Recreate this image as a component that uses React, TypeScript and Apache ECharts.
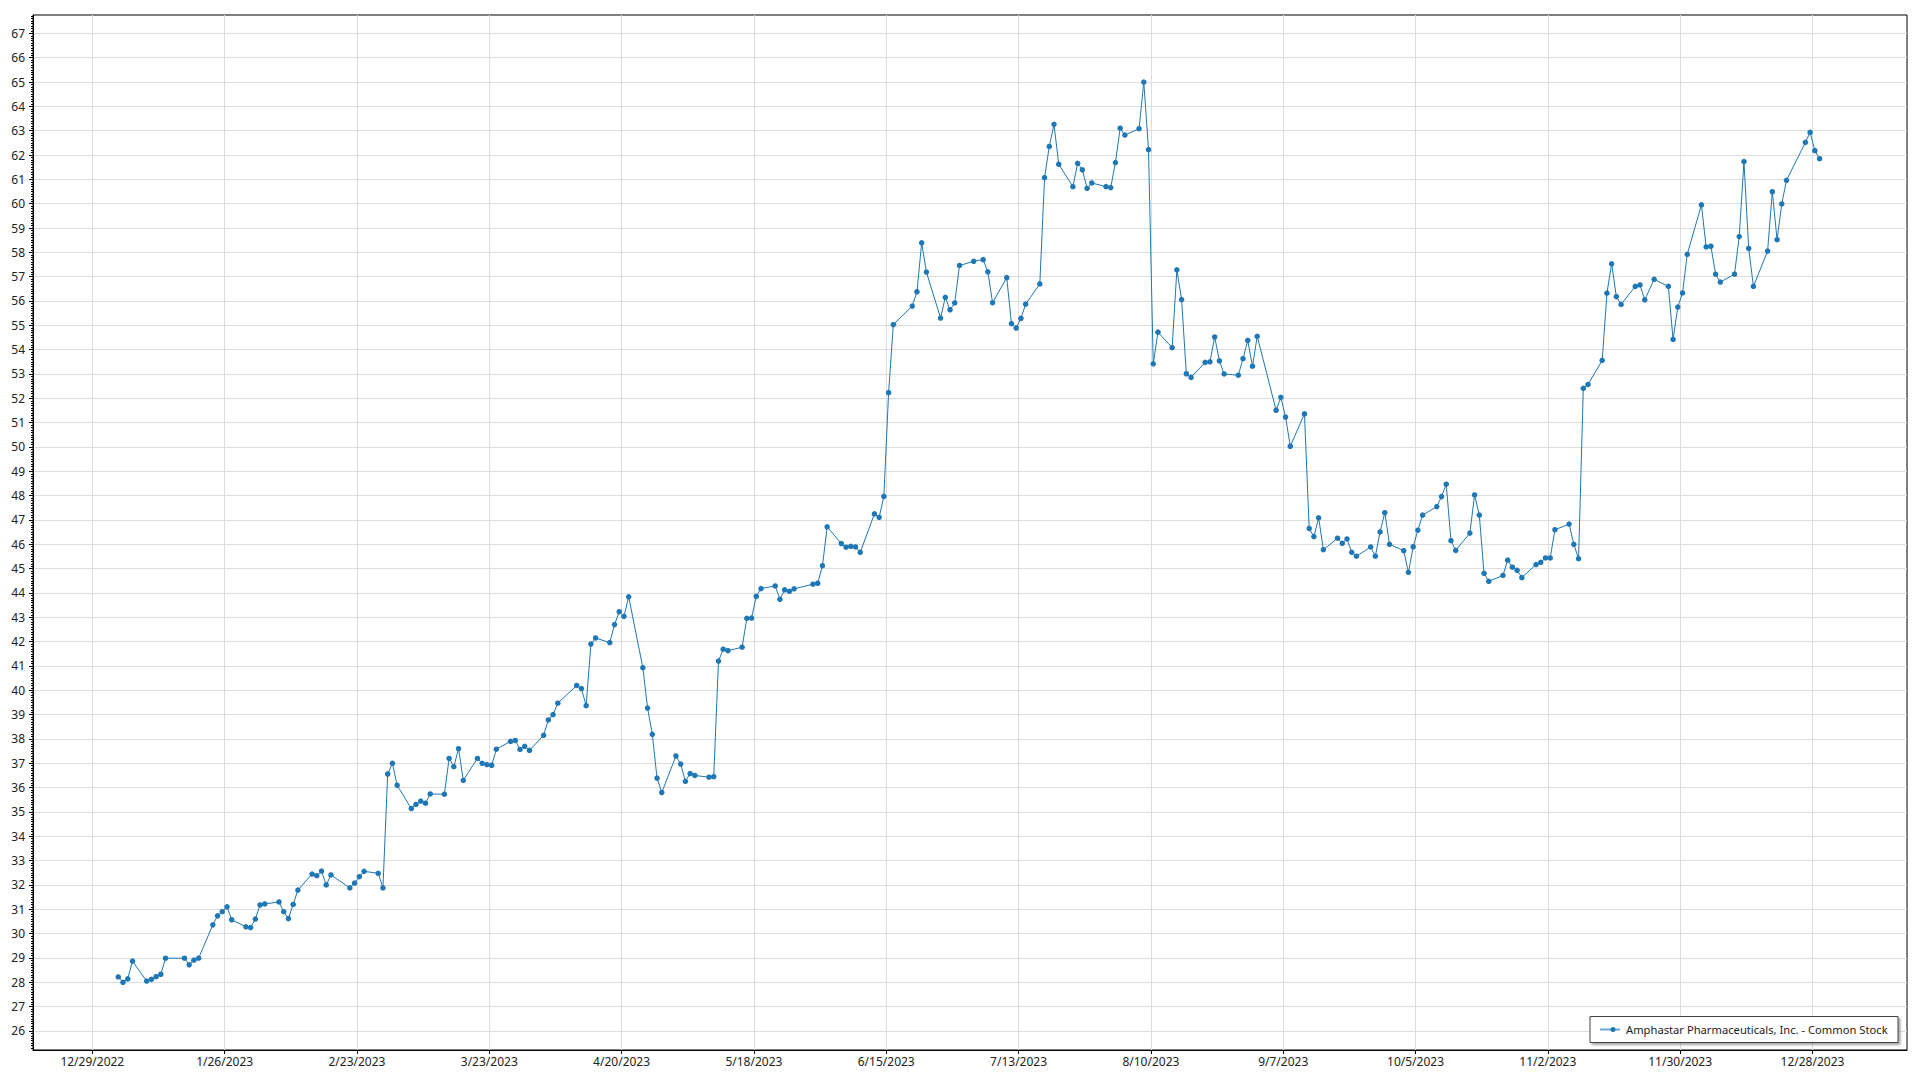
import React, { useEffect, useRef } from 'react';
import * as echarts from 'echarts';

const SERIES_NAME = 'Amphastar Pharmaceuticals, Inc. - Common Stock';
const YEAR = 2023;

// [day of month, closing price]
const jan: [number, number][] = [
  [3, 28.22], [4, 28.0], [5, 28.14], [6, 28.87], [9, 28.05], [10, 28.12], [11, 28.23], [12, 28.33],
  [13, 28.99], [17, 28.99], [18, 28.72], [19, 28.91], [20, 28.99], [23, 30.36], [24, 30.73], [25, 30.9],
  [26, 31.1], [27, 30.57], [30, 30.28], [31, 30.25],
];
const feb: [number, number][] = [
  [1, 30.6], [2, 31.18], [3, 31.22], [6, 31.3], [7, 30.9], [8, 30.62], [9, 31.2], [10, 31.79],
  [13, 32.45], [14, 32.38], [15, 32.57], [16, 32.0], [17, 32.41], [21, 31.88], [22, 32.08], [23, 32.34],
  [24, 32.56], [27, 32.48], [28, 31.88],
];
const mar: [number, number][] = [
  [1, 36.56], [2, 37.0], [3, 36.1], [6, 35.14], [7, 35.31], [8, 35.45], [9, 35.36], [10, 35.74],
  [13, 35.73], [14, 37.2], [15, 36.86], [16, 37.6], [17, 36.3], [20, 37.2], [21, 37.0], [22, 36.95],
  [23, 36.92], [24, 37.58], [27, 37.9], [28, 37.94], [29, 37.57], [30, 37.7], [31, 37.53],
];
const apr: [number, number][] = [
  [3, 38.15], [4, 38.78], [5, 39.0], [6, 39.47], [10, 40.2], [11, 40.07], [12, 39.37], [13, 41.9],
  [14, 42.15], [17, 41.96], [18, 42.7], [19, 43.23], [20, 43.04], [21, 43.84], [24, 40.93], [25, 39.27],
  [26, 38.19], [27, 36.39], [28, 35.8],
];
const may: [number, number][] = [
  [1, 37.3], [2, 36.97], [3, 36.26], [4, 36.58], [5, 36.5], [8, 36.43], [9, 36.45], [10, 41.2],
  [11, 41.69], [12, 41.63], [15, 41.77], [16, 42.96], [17, 42.97], [18, 43.86], [19, 44.18], [22, 44.29],
  [23, 43.74], [24, 44.13], [25, 44.07], [26, 44.17], [30, 44.36], [31, 44.4],
];
const jun: [number, number][] = [
  [1, 45.12], [2, 46.72], [5, 46.03], [6, 45.88], [7, 45.92], [8, 45.89], [9, 45.67], [12, 47.25],
  [13, 47.11], [14, 47.97], [15, 52.23], [16, 55.03], [20, 55.79], [21, 56.38], [22, 58.39], [23, 57.19],
  [26, 55.3], [27, 56.15], [28, 55.64], [29, 55.92], [30, 57.46],
];
const jul: [number, number][] = [
  [3, 57.63], [5, 57.7], [6, 57.2], [7, 55.93], [10, 56.96], [11, 55.07], [12, 54.89], [13, 55.29],
  [14, 55.87], [17, 56.7], [18, 61.07], [19, 62.35], [20, 63.26], [21, 61.62], [24, 60.7], [25, 61.66],
  [26, 61.39], [27, 60.63], [28, 60.85], [31, 60.7],
];
const aug: [number, number][] = [
  [1, 60.66], [2, 61.69], [3, 63.1], [4, 62.82], [7, 63.08], [8, 65.0], [9, 62.22], [10, 53.42],
  [11, 54.72], [14, 54.08], [15, 57.28], [16, 56.06], [17, 53.01], [18, 52.86], [21, 53.48], [22, 53.5],
  [23, 54.52], [24, 53.54], [25, 53.0], [28, 52.95], [29, 53.63], [30, 54.38], [31, 53.32],
];
const sep: [number, number][] = [
  [1, 54.55], [5, 51.51], [6, 52.04], [7, 51.23], [8, 50.03], [11, 51.36], [12, 46.65], [13, 46.32],
  [14, 47.09], [15, 45.78], [18, 46.25], [19, 46.04], [20, 46.22], [21, 45.67], [22, 45.51], [25, 45.89],
  [26, 45.51], [27, 46.51], [28, 47.3], [29, 46.0],
];
const oct: [number, number][] = [
  [2, 45.74], [3, 44.85], [4, 45.9], [5, 46.58], [6, 47.2], [9, 47.55], [10, 47.96], [11, 48.47],
  [12, 46.15], [13, 45.75], [16, 46.46], [17, 48.03], [18, 47.2], [19, 44.81], [20, 44.48], [23, 44.72],
  [24, 45.35], [25, 45.06], [26, 44.93], [27, 44.63], [30, 45.17], [31, 45.26],
];
const nov: [number, number][] = [
  [1, 45.44], [2, 45.44], [3, 46.6], [6, 46.83], [7, 46.0], [8, 45.41], [9, 52.41], [10, 52.57],
  [13, 53.56], [14, 56.32], [15, 57.53], [16, 56.18], [17, 55.86], [20, 56.6], [21, 56.66], [22, 56.05],
  [24, 56.89], [27, 56.6], [28, 54.42], [29, 55.75], [30, 56.33],
];
const dec: [number, number][] = [
  [1, 57.92], [4, 59.95], [5, 58.22], [6, 58.25], [7, 57.1], [8, 56.78], [11, 57.1], [12, 58.65],
  [13, 61.73], [14, 58.16], [15, 56.6], [18, 58.05], [19, 60.49], [20, 58.52], [21, 59.99], [22, 60.96],
  [26, 62.52], [27, 62.93], [28, 62.18], [29, 61.85],
];
const MONTHS = [jan, feb, mar, apr, may, jun, jul, aug, sep, oct, nov, dec];

const xTickLabels = [
  '12/29/2022', '1/26/2023', '2/23/2023', '3/23/2023', '4/20/2023', '5/18/2023', '6/15/2023',
  '7/13/2023', '8/10/2023', '9/7/2023', '10/5/2023', '11/2/2023', '11/30/2023', '12/28/2023',
];
const yTickValues = [
  26, 27, 28, 29, 30, 31, 32, 33, 34, 35, 36, 37, 38, 39, 40, 41, 42, 43, 44, 45, 46, 47,
  48, 49, 50, 51, 52, 53, 54, 55, 56, 57, 58, 59, 60, 61, 62, 63, 64, 65, 66, 67,
];

const DAY = 86400000;
const parseMDY = (s: string) => {
  const [m, d, y] = s.split('/').map(Number);
  return Date.UTC(y, m - 1, d);
};

export default function App() {
  const ref = useRef<HTMLDivElement>(null);

  useEffect(() => {
    if (!ref.current) return;
    const chart = echarts.init(ref.current, null, { renderer: 'svg' });

    const data: [number, number][] = [];
    MONTHS.forEach((month, mi) => {
      month.forEach(([d, v]) => data.push([Date.UTC(YEAR, mi, d, 12), v]));
    });

    const xTicks = xTickLabels.map(parseMDY);
    const labelMap = new Map<number, string>();
    xTicks.forEach((t, i) => labelMap.set(t, xTickLabels[i]));
    const origin = xTicks[0];

    const yMin = 25.217;
    const yMax = 67.754;
    const minor: number[] = [];
    for (let i = Math.ceil(yMin * 10); i <= Math.floor(yMax * 10); i++) minor.push(i / 10);

    const font = "'Segoe UI', 'Noto Sans', 'Open Sans', sans-serif";

    // legend box geometry (pixels)
    const lgX = 1590;
    const lgY = 1016.5;
    const lgW = 308;
    const lgH = 26;
    const lgMid = lgY + lgH / 2;

    chart.setOption({
      animation: false,
      backgroundColor: '#ffffff',
      grid: {
        left: 33,
        right: 13,
        top: 15,
        bottom: 30,
        show: true,
        borderColor: '#000000',
        borderWidth: 1,
        containLabel: false,
      },
      graphic: [
        {
          type: 'rect',
          z: 100,
          shape: { x: lgX, y: lgY, width: lgW, height: lgH },
          style: {
            fill: '#ffffff',
            stroke: '#444444',
            lineWidth: 1,
            shadowColor: 'rgba(0,0,0,0.35)',
            shadowBlur: 2,
            shadowOffsetX: 2,
            shadowOffsetY: 2,
          },
        },
        {
          type: 'line',
          z: 101,
          shape: { x1: lgX + 10, y1: lgMid, x2: lgX + 30, y2: lgMid },
          style: { stroke: '#6aa6d8', lineWidth: 2 },
        },
        {
          type: 'circle',
          z: 102,
          shape: { cx: lgX + 23, cy: lgMid, r: 2.5 },
          style: { fill: '#1f77b4' },
        },
        {
          type: 'text',
          z: 102,
          x: lgX + 36,
          y: lgMid,
          style: {
            text: SERIES_NAME,
            fill: '#222222',
            font: `11.2px ${font}`,
            verticalAlign: 'middle',
            align: 'left',
          },
        },
      ],
      xAxis: {
        type: 'value',
        min: origin - 12.55 * DAY,
        max: origin + 384 * DAY,
        axisLine: { show: true, lineStyle: { color: '#000000', width: 1 } },
        axisTick: { show: true, length: 4, customValues: xTicks, lineStyle: { color: '#000000' } },
        axisLabel: {
          show: true,
          customValues: xTicks,
          margin: 5,
          color: '#222222',
          fontFamily: font,
          fontSize: 12,
          formatter: (v: number) => labelMap.get(Math.round(v)) ?? '',
        },
        splitLine: { show: true, lineStyle: { color: '#dddddd', width: 1 } },
      },
      yAxis: [
        {
          type: 'value',
          min: yMin,
          max: yMax,
          axisLine: { show: true, lineStyle: { color: '#000000', width: 1 } },
          axisTick: { show: true, length: 4, customValues: yTickValues, lineStyle: { color: '#000000' } },
          axisLabel: {
            show: true,
            customValues: yTickValues,
            margin: 8,
            color: '#222222',
            fontFamily: font,
            fontSize: 12,
            formatter: (v: number) => String(Math.round(v)),
          },
          splitLine: { show: true, lineStyle: { color: '#dddddd', width: 1 } },
        },
        {
          type: 'value',
          position: 'left',
          offset: 0,
          min: yMin,
          max: yMax,
          axisLine: { show: false },
          axisTick: { show: true, length: 2, customValues: minor, lineStyle: { color: '#000000' } },
          axisLabel: { show: false },
          splitLine: { show: false },
        },
      ],
      series: [
        {
          name: SERIES_NAME,
          type: 'line',
          xAxisIndex: 0,
          yAxisIndex: 0,
          data,
          symbol: 'circle',
          symbolSize: 5.5,
          showSymbol: true,
          itemStyle: { color: '#1f77b4' },
          lineStyle: { color: '#1f77b4', width: 1 },
        },
      ],
    });

    return () => chart.dispose();
  }, []);

  return (
    <div
      ref={ref}
      style={{ position: 'absolute', left: 0, top: 0, width: 1920, height: 1080, background: '#ffffff' }}
    />
  );
}
